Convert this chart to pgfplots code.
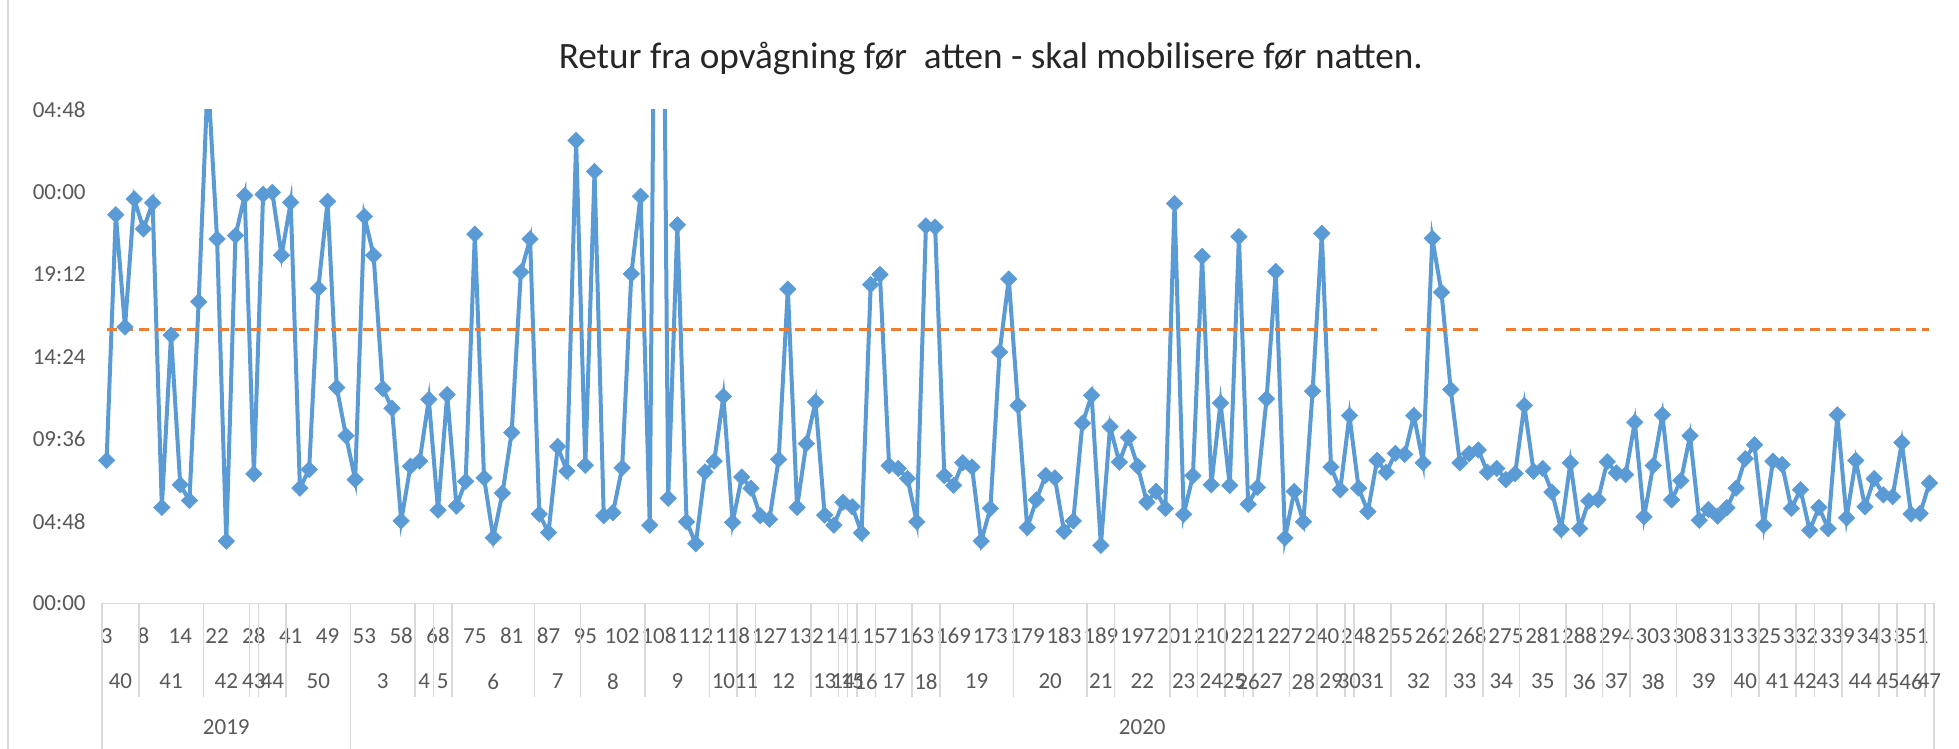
\documentclass[border=0pt]{standalone}
\usepackage{pgfplots}
\pgfplotsset{compat=1.18}
\usepackage{fontspec}
\setmainfont{Carlito}
\definecolor{serblue}{HTML}{5B9BD5}
\definecolor{serorange}{HTML}{ED7D31}
\definecolor{lblgray}{HTML}{595959}
\definecolor{titlegray}{HTML}{262626}
\definecolor{linegray}{HTML}{D9D9D9}
\newcommand{\lblfont}{\fontsize{11.5}{13}\selectfont}
\begin{document}
\begin{tikzpicture}
\useasboundingbox (-51pt,-72.75pt) rectangle (928.5pt,301.75pt);
\begin{axis}[
  at={(0pt,0pt)}, anchor=south west,
  scale only axis, width=916pt, height=246.75pt,
  xmin=0.5, xmax=199.5, ymin=0, ymax=28.8,
  axis lines*=left,
  axis line style={draw=none},
  major tick length=0pt,
  tick style={draw=none},
  ytick={0,4.8,9.6,14.4,19.2,24,28.8},
  yticklabels={00:00,04:48,09:36,14:24,19:12,00:00,04:48},
  xtick={1,5,...,197},
  xticklabels={3,8,14,22,28,41,49,53,58,68,75,81,87,95,102,108,112,118,127,132,141,157,163,169,173,179,183,189,197,201,210,221,227,240,248,255,262,268,275,281,288,294,303,308,313,325,332,339,343,351},
  yticklabel style={font=\lblfont, text=lblgray, anchor=east, inner sep=0pt, xshift=-8pt},
  xticklabel style={font=\lblfont, text=lblgray, anchor=center, inner sep=0pt, yshift=-16.25pt},
  clip=true,
]
\addplot[color=serblue, line width=2pt, mark=square*, mark size=2.9pt,
  mark options={rotate=45, fill=serblue, draw=serblue, line width=0.3pt}]
coordinates {
(1,8.35) (2,22.69) (3,16.13) (4,23.61) (5,21.86) (6,23.38) (7,5.61) (8,15.66) (9,6.93) (10,6.01)
(11,17.61) (12,30.8) (13,21.27) (14,3.64) (15,21.47) (16,23.81) (17,7.56) (18,23.87) (19,23.99) (20,20.32)
(21,23.41) (22,6.73) (23,7.82) (24,18.39) (25,23.47) (26,12.60) (27,9.79) (28,7.23) (29,22.59) (30,20.32)
(31,12.54) (32,11.40) (33,4.82) (34,8.01) (35,8.31) (36,11.91) (37,5.45) (38,12.19) (39,5.69) (40,7.13)
(41,21.56) (42,7.33) (43,3.84) (44,6.44) (45,9.98) (46,19.34) (47,21.27) (48,5.22) (49,4.14) (50,9.16)
(51,7.72) (52,27.02) (53,8.07) (54,25.21) (55,5.12) (56,5.30) (57,7.92) (58,19.24) (59,23.77) (60,4.57)
(61,70) (62,6.14) (63,22.10) (64,4.77) (65,3.49) (66,7.68) (67,8.31) (68,12.09) (69,4.73) (70,7.38)
(71,6.73) (72,5.12) (73,4.92) (74,8.41) (75,18.35) (76,5.61) (77,9.33) (78,11.76) (79,5.16) (80,4.57)
(81,5.91) (82,5.65) (83,4.12) (84,18.61) (85,19.20) (86,8.05) (87,7.88) (88,7.29) (89,4.77) (90,22.04)
(91,21.96) (92,7.46) (93,6.89) (94,8.21) (95,7.96) (96,3.64) (97,5.55) (98,14.67) (99,18.94) (100,11.56)
(101,4.43) (102,6.05) (103,7.48) (104,7.33) (105,4.21) (106,4.82) (107,10.52) (108,12.15) (109,3.39) (110,10.32)
(111,8.25) (112,9.69) (113,8.01) (114,5.91) (115,6.54) (116,5.55) (117,23.34) (118,5.20) (119,7.46) (120,20.26)
(121,6.93) (122,11.70) (123,6.89) (124,21.41) (125,5.79) (126,6.77) (127,11.95) (128,19.38) (129,3.82) (130,6.54)
(131,4.77) (132,12.39) (133,21.60) (134,7.96) (135,6.64) (136,10.97) (137,6.73) (138,5.36) (139,8.35) (140,7.66)
(141,8.76) (142,8.70) (143,10.97) (144,8.21) (145,21.31) (146,18.16) (147,12.49) (148,8.21) (149,8.74) (150,8.96)
(151,7.66) (152,7.88) (153,7.23) (154,7.58) (155,11.56) (156,7.72) (157,7.88) (158,6.50) (159,4.33) (160,8.21)
(161,4.37) (162,5.99) (163,6.05) (164,8.27) (165,7.62) (166,7.52) (167,10.58) (168,5.06) (169,8.05) (170,11.01)
(171,6.05) (172,7.17) (173,9.79) (174,4.86) (175,5.49) (176,5.10) (177,5.59) (178,6.73) (179,8.45) (180,9.26)
(181,4.57) (182,8.31) (183,8.11) (184,5.55) (185,6.64) (186,4.27) (187,5.61) (188,4.37) (189,11.01) (190,5.00)
(191,8.35) (192,5.65) (193,7.29) (194,6.34) (195,6.24) (196,9.39) (197,5.22) (198,5.26) (199,7.03)
};
\addplot[color=serorange, line width=1.6pt, dash pattern=on 5pt off 3pt, mark=none, unbounded coords=jump]
coordinates {
(1,16) (139,16) (140,nan) (142,16) (150,16) (151,nan) (153,16) (199,16)
};
\end{axis}
% chart border (left)
\draw[linegray, line width=0.75pt] (-47pt,-72.75pt) -- (-47pt,301.75pt);
% category table
\draw[linegray, line width=0.75pt] (0pt,0pt) -- (916pt,0pt);
\foreach \b in {4.5,11.5,16.5,17.5,20.5,34.5,36.5,38.5,47.5,52.5,59.5,66.5,69.5,71.5,77.5,80.5,81.5,82.5,84.5,88.5,91.5,99.5,107.5,110.5,116.5,119.5,122.5,124.5,125.5,129.5,132.5,135.5,136.5,140.5,146.5,150.5,154.5,159.5,163.5,166.5,171.5,177.5,180.5,184.5,186.5,189.5,193.5,195.5,198.5}
  \draw[linegray, line width=0.75pt] ({(\b-0.5)*4.603015pt},0pt) -- ++(0pt,-46.75pt);
\foreach \b in {0.5,27.5,199.5}
  \draw[linegray, line width=0.75pt] ({(\b-0.5)*4.603015pt},0pt) -- ++(0pt,-72.75pt);
\foreach \c/\t in {2.5/40,8/41,14/42,17/43,19/44,24/50,31/3,35.5/4,37.5/5,43/6,50/7,56/8,63/9,68/10,70.5/11,74.5/12,79/13,81/14,82/15,83.5/16,86.5/17,90/18,95.5/19,103.5/20,109/21,113.5/22,118/23,121/24,123.5/25,125/26,127.5/27,131/28,134/29,136/30,138.5/31,143.5/32,148.5/33,152.5/34,157/35,161.5/36,165/37,169/38,174.5/39,179/40,182.5/41,185.5/42,188/43,191.5/44,194.5/45,197/46,199/47}
  \node[font=\lblfont, text=lblgray, inner sep=0pt] at ({(\c-0.5)*4.603015pt},-39pt) {\t};
\node[font=\lblfont, text=lblgray, inner sep=0pt] at ({(14-0.5)*4.603015pt},-61.75pt) {2019};
\node[font=\lblfont, text=lblgray, inner sep=0pt] at ({(113.5-0.5)*4.603015pt},-61.75pt) {2020};
% title
\node[font=\fontsize{18.6}{22}\selectfont, text=titlegray, inner sep=0pt] at (444.4pt,272.4pt) {Retur fra opvågning før\ \ atten - skal mobilisere før natten.};
\end{tikzpicture}
\end{document}
